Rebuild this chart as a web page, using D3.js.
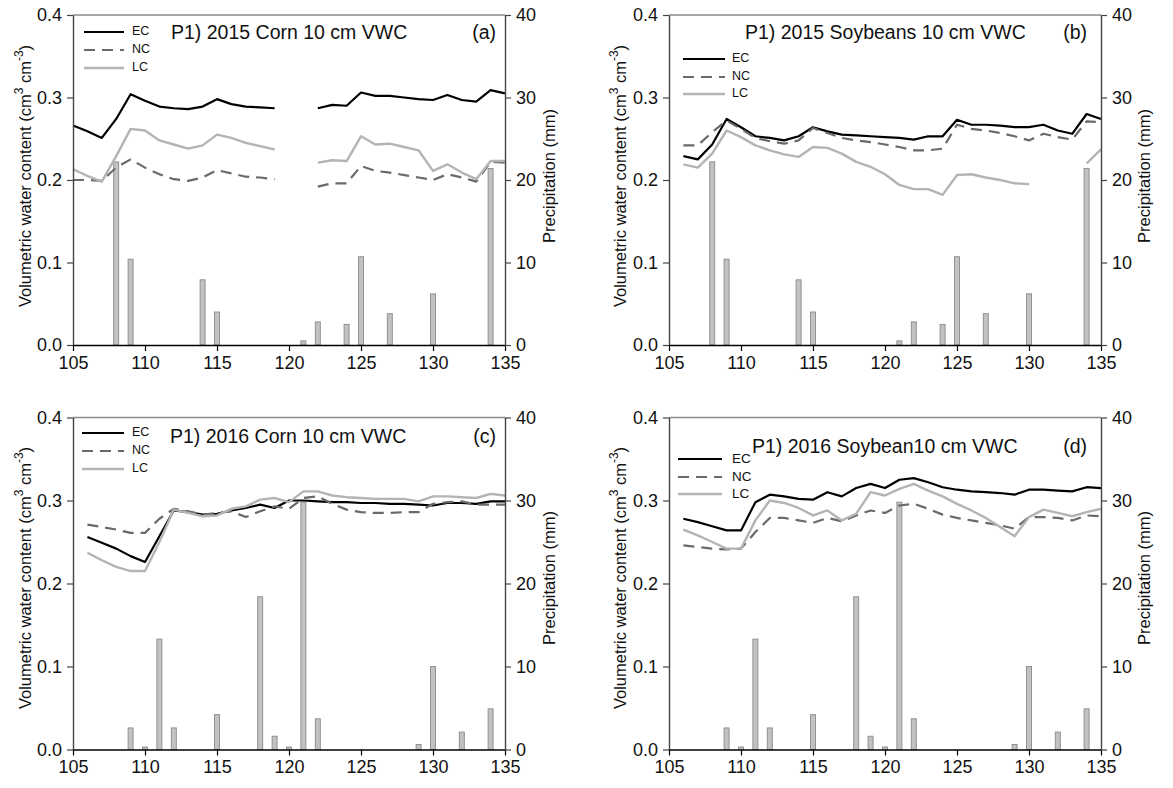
<!DOCTYPE html>
<html><head><meta charset="utf-8">
<script src="https://cdn.jsdelivr.net/npm/d3@7"></script>
<style>body{margin:0;background:#fff}svg{display:block}text{font-family:"Liberation Sans",Arial,sans-serif}</style>
</head><body><svg id="c" width="1173" height="788"></svg>
<script>
// ---------- data ----------
const days = [105,106,107,108,109,110,111,112,113,114,115,116,117,118,119,120,121,122,123,124,125,126,127,128,129,130,131,132,133,134,135];

const ecA = [0.266,0.259,0.251,0.274,0.304,0.296,0.289,0.287,0.286,0.289,0.298,0.292,0.289,0.288,0.287,null,null,0.287,0.291,0.290,0.306,0.302,0.302,0.300,0.298,0.297,0.303,0.297,0.295,0.309,0.305];
const ncA = [0.200,0.200,0.199,0.215,0.225,0.215,0.207,0.201,0.199,0.203,0.212,0.208,0.204,0.203,0.201,null,null,0.192,0.196,0.196,0.217,0.211,0.209,0.206,0.203,0.200,0.207,0.203,0.198,0.222,0.221];
const lcA = [0.213,0.205,0.198,0.229,0.262,0.260,0.248,0.243,0.238,0.242,0.255,0.251,0.245,0.241,0.237,null,null,0.221,0.224,0.223,0.253,0.243,0.244,0.240,0.236,0.211,0.219,0.209,0.201,0.223,0.223];

const ecB = [null,0.229,0.225,0.243,0.274,0.264,0.253,0.251,0.248,0.253,0.264,0.259,0.255,0.254,0.253,0.252,0.251,0.249,0.253,0.253,0.273,0.267,0.267,0.266,0.264,0.264,0.267,0.260,0.256,0.280,0.274];
const ncB = [null,0.242,0.242,0.258,0.272,0.262,0.251,0.247,0.244,0.248,0.263,0.257,0.251,0.248,0.246,0.243,0.240,0.236,0.236,0.238,0.267,0.262,0.260,0.257,0.253,0.248,0.256,0.252,0.249,0.271,0.270];
const lcB = [null,0.219,0.215,0.232,0.260,0.252,0.242,0.236,0.231,0.228,0.240,0.239,0.232,0.222,0.216,0.207,0.194,0.189,0.189,0.182,0.206,0.207,0.203,0.200,0.196,0.195,null,null,null,0.220,0.237];

const ecC = [null,0.256,0.249,0.242,0.233,0.226,0.257,0.288,0.286,0.283,0.284,0.288,0.291,0.295,0.291,0.300,0.300,0.299,0.298,0.298,0.297,0.297,0.296,0.296,0.295,0.294,0.297,0.297,0.296,0.299,0.299];
const ncC = [null,0.271,0.268,0.265,0.261,0.261,0.278,0.290,0.287,0.283,0.285,0.287,0.280,0.287,0.293,0.290,0.303,0.305,0.296,0.289,0.286,0.285,0.285,0.286,0.286,0.296,0.298,0.299,0.295,0.295,0.295];
const lcC = [null,0.237,0.228,0.220,0.215,0.215,0.250,0.289,0.285,0.281,0.282,0.290,0.293,0.301,0.303,0.298,0.311,0.311,0.306,0.304,0.303,0.302,0.302,0.302,0.299,0.305,0.305,0.304,0.303,0.308,0.306];

const ecD = [null,0.278,0.274,0.269,0.264,0.264,0.298,0.307,0.305,0.302,0.301,0.310,0.305,0.315,0.320,0.315,0.325,0.327,0.322,0.316,0.313,0.311,0.310,0.309,0.307,0.313,0.313,0.312,0.311,0.316,0.315];
const ncD = [null,0.246,0.244,0.242,0.241,0.242,0.262,0.279,0.279,0.276,0.273,0.279,0.275,0.282,0.288,0.285,0.294,0.296,0.290,0.283,0.279,0.276,0.273,0.270,0.266,0.280,0.280,0.279,0.276,0.282,0.281];
const lcD = [null,0.265,0.258,0.250,0.242,0.242,0.276,0.300,0.297,0.291,0.282,0.288,0.276,0.284,0.310,0.306,0.314,0.320,0.312,0.305,0.296,0.288,0.279,0.268,0.257,0.280,0.289,0.285,0.281,0.286,0.290];

const rainDays2015 = [108,109,114,115,121,122,124,125,127,130,134];
const rain2015     = [22.2,10.4,7.9,4.0,0.5,2.8,2.5,10.7,3.8,6.2,21.4];
const rainDays2016 = [109,110,111,112,115,118,119,120,121,122,129,130,132,134];
const rain2016     = [2.6,0.3,13.3,2.6,4.2,18.4,1.6,0.3,29.8,3.7,0.6,10.0,2.1,4.9];

const xTicks = [105,110,115,120,125,130,135];
const yTicks = [0.0,0.1,0.2,0.3,0.4];
const rTicks = [0,10,20,30,40];
const seriesNames = ["EC","NC","LC"];
const panelTitles = ["P1) 2015 Corn 10 cm VWC","P1) 2015 Soybeans 10 cm VWC","P1) 2016 Corn 10 cm VWC","P1) 2016 Soybean10 cm VWC"];
const panelTags = ["(a)","(b)","(c)","(d)"];

// ---------- layout / styles ----------
const styles = [
  {stroke:"#000000", dash:null, width:2.2},
  {stroke:"#6a6a6a", dash:"11,7", width:2.2},
  {stroke:"#b4b4b4", dash:null, width:2.4}
];
const layout = [
  {left:73, right:505, top:15, bottom:345, titleX:171, titleY:39, tagX:496, legX0:84, legX1:124, legTX:132, legY:[32,50,68], legFont:12.5, yTitleX:27, rTitleX:551, midY:176},
  {left:669, right:1101, top:15, bottom:345, titleX:745, titleY:39, tagX:1087, legX0:683, legX1:725, legTX:732, legY:[59,77,94], legFont:12.5, yTitleX:622, rTitleX:1146, midY:176},
  {left:73, right:505, top:417.5, bottom:749.5, titleX:170, titleY:443, tagX:496, legX0:82, legX1:124, legTX:132, legY:[433,451,469], legFont:12.5, yTitleX:27, rTitleX:551, midY:578},
  {left:669, right:1101, top:417.5, bottom:749.5, titleX:752, titleY:453, tagX:1087, legX0:678, legX1:722, legTX:732, legY:[459,477,494], legFont:13.5, yTitleX:622, rTitleX:1146, midY:578}
];
const panelSeries = [[ecA,ncA,lcA],[ecB,ncB,lcB],[ecC,ncC,lcC],[ecD,ncD,lcD]];
const panelRain = [[rainDays2015,rain2015],[rainDays2015,rain2015],[rainDays2016,rain2016],[rainDays2016,rain2016]];

const svg = d3.select("#c");

layout.forEach((L,i)=>{
  const g = svg.append("g");
  const x = d3.scaleLinear().domain([105,135]).range([L.left,L.right]);
  const y = d3.scaleLinear().domain([0,0.4]).range([L.bottom,L.top]);
  const yr = d3.scaleLinear().domain([0,40]).range([L.bottom,L.top]);

  // frame top
  g.append("line").attr("x1",L.left).attr("x2",L.right).attr("y1",L.top).attr("y2",L.top)
    .attr("stroke","#8a8a8a").attr("stroke-width",1.3);

  // bars
  const [rd, rv] = panelRain[i];
  g.append("g").selectAll("rect").data(rd.map((d,k)=>({d, v:rv[k]}))).join("rect")
    .attr("x",d=>x(d.d)-2.5).attr("width",5)
    .attr("y",d=>yr(d.v)).attr("height",d=>yr(0)-yr(d.v))
    .attr("fill","#c2c2c2").attr("stroke","#8a8a8a").attr("stroke-width",0.9);

  // lines
  panelSeries[i].forEach((vals,s)=>{
    const pts = days.map((d,k)=>({d, v:vals[k]}));
    const line = d3.line().defined(p=>p.v!==null).x(p=>x(p.d)).y(p=>y(p.v));
    g.append("path").attr("d",line(pts)).attr("fill","none")
      .attr("stroke",styles[s].stroke).attr("stroke-width",styles[s].width)
      .attr("stroke-dasharray",styles[s].dash).attr("stroke-linejoin","round");
  });

  // axes
  const fs = "18px";
  const ax = g.append("g").attr("transform",`translate(0,${L.bottom})`)
    .call(d3.axisBottom(x).tickValues(xTicks).tickSize(6).tickPadding(5).tickSizeOuter(0));
  ax.select(".domain").attr("stroke","#000").attr("stroke-width",1.5);
  ax.selectAll("line").attr("stroke","#000").attr("stroke-width",1.2);
  ax.selectAll("text").attr("font-size",fs).attr("fill","#111").attr("font-family","Liberation Sans, Arial, sans-serif");

  const ay = g.append("g").attr("transform",`translate(${L.left},0)`)
    .call(d3.axisLeft(y).tickValues(yTicks).tickFormat(d3.format(".1f")).tickSize(6).tickPadding(5).tickSizeOuter(0));
  ay.select(".domain").attr("stroke","#444").attr("stroke-width",1.4);
  ay.selectAll("line").attr("stroke","#444").attr("stroke-width",1.2);
  ay.selectAll("text").attr("font-size",fs).attr("fill","#111").attr("font-family","Liberation Sans, Arial, sans-serif");

  const ar = g.append("g").attr("transform",`translate(${L.right},0)`)
    .call(d3.axisRight(yr).tickValues(rTicks).tickFormat(d3.format("d")).tickSize(6).tickPadding(5).tickSizeOuter(0));
  ar.select(".domain").attr("stroke","#444").attr("stroke-width",1.4);
  ar.selectAll("line").attr("stroke","#444").attr("stroke-width",1.2);
  ar.selectAll("text").attr("font-size",fs).attr("fill","#111").attr("font-family","Liberation Sans, Arial, sans-serif");

  // axis titles
  const yt = g.append("text").attr("transform",`translate(${L.yTitleX},${L.midY}) rotate(-90)`)
    .attr("text-anchor","middle").attr("dominant-baseline","middle").attr("font-size","16.5px").attr("fill","#111");
  yt.append("tspan").text("Volumetric water content (cm");
  yt.append("tspan").attr("dy",-7).attr("font-size","12px").text("3");
  yt.append("tspan").attr("dy",7).text(" cm");
  yt.append("tspan").attr("dy",-7).attr("font-size","12px").text("-3");
  yt.append("tspan").attr("dy",7).text(")");

  g.append("text").attr("transform",`translate(${L.rTitleX},${L.midY}) rotate(-90)`)
    .attr("text-anchor","middle").attr("dominant-baseline","middle").attr("font-size","16.5px").attr("fill","#111")
    .text("Precipitation (mm)");

  // panel title and tag
  g.append("text").attr("x",L.titleX).attr("y",L.titleY).attr("font-size","19.5px").attr("fill","#111").text(panelTitles[i]);
  g.append("text").attr("x",L.tagX).attr("y",L.titleY).attr("text-anchor","end").attr("font-size","19.5px").attr("fill","#111").text(panelTags[i]);

  // legend
  seriesNames.forEach((nm,s)=>{
    g.append("line").attr("x1",L.legX0).attr("x2",L.legX1).attr("y1",L.legY[s]).attr("y2",L.legY[s])
      .attr("stroke",styles[s].stroke).attr("stroke-width",styles[s].width).attr("stroke-dasharray",styles[s].dash);
    g.append("text").attr("x",L.legTX).attr("y",L.legY[s]).attr("dominant-baseline","middle")
      .attr("font-size",L.legFont+"px").attr("fill","#111").text(nm);
  });
});
</script></body></html>
